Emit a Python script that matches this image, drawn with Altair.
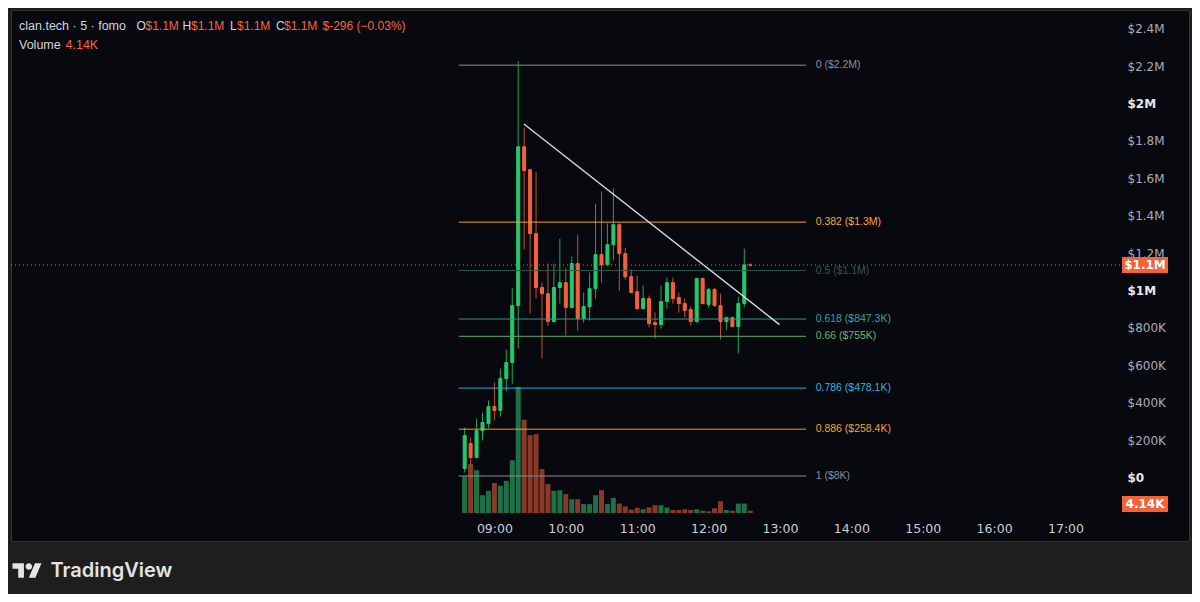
import altair as alt
import pandas as pd

# ---------------- data ----------------
times = ["08:35", "08:40", "08:45", "08:50", "08:55",
         "09:00", "09:05", "09:10", "09:15", "09:20", "09:25", "09:30", "09:35", "09:40", "09:45", "09:50", "09:55",
         "10:00", "10:05", "10:10", "10:15", "10:20", "10:25", "10:30", "10:35", "10:40", "10:45", "10:50", "10:55",
         "11:00", "11:05", "11:10", "11:15", "11:20", "11:25", "11:30", "11:35", "11:40", "11:45", "11:50", "11:55",
         "12:00", "12:05", "12:10", "12:15", "12:20", "12:25", "12:30", "12:35"]

# prices in $M
opens = [0.048, 0.182, 0.107, 0.251, 0.289, 0.379, 0.358, 0.529, 0.615, 0.919,
         1.769, 1.646, 1.304, 1.016, 0.983, 0.834, 1.016, 1.042, 0.909, 1.144,
         0.850, 0.914, 1.010, 1.192, 1.138, 1.245, 1.352, 1.197, 1.074, 0.994,
         0.903, 0.957, 0.828, 0.818, 0.941, 1.042, 0.962, 0.930, 0.898, 0.834,
         1.064, 0.925, 1.005, 0.919, 0.834, 0.855, 0.807, 0.930, 1.137]
highs = [0.267, 0.214, 0.315, 0.347, 0.412, 0.508, 0.583, 0.684, 1.015, 2.227,
         1.871, 1.650, 1.635, 1.042, 1.144, 1.144, 1.277, 1.122, 1.181, 1.299,
         0.989, 1.096, 1.464, 1.529, 1.358, 1.545, 1.360, 1.229, 1.112, 1.080,
         1.026, 0.973, 0.882, 1.026, 1.069, 1.069, 0.989, 0.957, 0.914, 1.069,
         1.069, 1.015, 1.015, 0.983, 0.860, 0.860, 0.967, 1.224, 1.146]
lows = [0.027, 0.064, 0.102, 0.198, 0.262, 0.305, 0.326, 0.460, 0.502, 0.689,
        1.219, 0.877, 0.957, 0.636, 0.812, 0.828, 0.930, 0.759, 0.903, 0.786,
        0.828, 0.839, 0.957, 1.042, 1.133, 1.160, 0.999, 1.058, 0.983, 0.898,
        0.898, 0.802, 0.743, 0.796, 0.903, 0.930, 0.882, 0.855, 0.812, 0.828,
        0.925, 0.909, 0.914, 0.738, 0.791, 0.802, 0.663, 0.909, 1.126]
closes = [0.224, 0.107, 0.251, 0.294, 0.379, 0.358, 0.529, 0.615, 0.919, 1.769,
          1.641, 1.304, 1.016, 0.983, 0.834, 1.016, 1.042, 0.909, 1.144, 0.850,
          0.914, 1.010, 1.192, 1.138, 1.245, 1.352, 1.197, 1.074, 0.989, 0.903,
          0.957, 0.823, 0.818, 0.941, 1.042, 0.957, 0.930, 0.893, 0.834, 1.064,
          0.930, 1.005, 0.919, 0.834, 0.855, 0.807, 0.930, 1.137, 1.1364]
# volume in $K
volumes = [66, 88, 77, 32, 40, 54, 49, 58, 95, 227,
           168, 140, 142, 79, 52, 40, 41, 34, 25, 25,
           16, 16, 32, 41, 16, 27, 17, 12, 6, 9.5,
           6.7, 10, 14, 14, 10, 5.4, 5.4, 6.7, 5.4, 6.7,
           4.1, 3.1, 8.5, 21, 5.4, 4.1, 17, 17, 4.14]

fib_levels = ["0", "0.382", "0.5", "0.618", "0.66", "0.786", "0.886", "1"]
fib_prices = [2.205, 1.3657, 1.1065, 0.8473, 0.755, 0.4781, 0.2584, 0.008]
fib_labels = ["0 ($2.2M)", "0.382 ($1.3M)", "0.5 ($1.1M)", "0.618 ($847.3K)",
              "0.66 ($755K)", "0.786 ($478.1K)", "0.886 ($258.4K)", "1 ($8K)"]
fib_start, fib_end, fib_text_at = "08:30", "13:22", "13:30"

trend_times = ["09:24.8", "12:59.6"]
trend_prices = [1.8904, 0.8176]

last_price = 1.1364
last_volume_label = "4.14K"

price_ticks = [0, 0.2, 0.4, 0.6, 0.8, 1.0, 1.2, 1.4, 1.6, 1.8, 2.0, 2.2, 2.4]
time_ticks = ["09:00", "10:00", "11:00", "12:00", "13:00", "14:00", "15:00", "16:00", "17:00"]

# ---------------- styles ----------------
GREEN, RED = "#26c86c", "#f5623a"
GREEN_WICK, RED_WICK = "#22a35a", "#c0502f"
VOL_G, VOL_R = "#1e7047", "#8a3927"
fib_colors = ["#8a8d96", "#f0a02e", "#2d5a4a", "#2a9a8e", "#5fae5c", "#27aed3", "#ef9a2c", "#8a8d96"]
fib_text_colors = ["#8a8d96", "#f2a637", "#37574a", "#2fa597", "#66b864", "#2cb4d8", "#f0a23a", "#8a8d96"]
GREY_TXT = "#d1d4dc"
ORANGE_TXT = "#f7653c"


def mins(s):
    h, m = s.split(":")
    return int(h) * 60 + float(m)


W, H = 1178, 531
XS = alt.Scale(domain=[137.92, 1119.58], nice=False, zero=False)
YS = alt.Scale(domain=[-0.3396, 2.5], nice=False, zero=False)
VS = alt.Scale(domain=[-50.4, 905.4], nice=False, zero=False)

time_label_expr = "(floor(datum.value/60) < 10 ? '0' : '') + floor(datum.value/60) + ':00'"
price_label_expr = ("datum.value == 0 ? '$0' : (datum.value >= 0.999 ? '$' + format(datum.value, '.2~f') + 'M' "
                    ": '$' + format(datum.value*1000, 'd') + 'K')")
BOLD_TEST = "datum.value == 0 || datum.value == 1 || datum.value == 2"

XAX = alt.Axis(values=[mins(s) for s in time_ticks], labelExpr=time_label_expr, orient="bottom", offset=-22,
               domain=False, ticks=False, grid=False, labelPadding=3, labelBaseline="top",
               labelColor="#c9ccd3", labelFontSize=12.5, labelFont="DejaVu Sans", zindex=0, title=None)
YAX = alt.Axis(values=price_ticks, labelExpr=price_label_expr, orient="right", offset=-62,
               domain=False, ticks=False, grid=False, labelPadding=0, labelAlign="left",
               labelFontSize=12, labelFont="DejaVu Sans", zindex=0, title=None,
               labelColor={"condition": {"test": BOLD_TEST, "value": "#e6e8ee"}, "value": "#a9acb5"},
               labelFontWeight={"condition": {"test": BOLD_TEST, "value": "bold"}, "value": "normal"})


def X(f):
    return alt.X(f, scale=XS, axis=XAX, title=None)


def Y(f):
    return alt.Y(f, scale=YS, axis=YAX, title=None)


df = pd.DataFrame({
    "t": [mins(s) for s in times],
    "o": opens, "h": highs, "l": lows, "c": closes, "v": volumes,
})
up = [c >= o for o, c in zip(opens, closes)]
df["body_col"] = [GREEN if u else RED for u in up]
df["wick_col"] = [GREEN_WICK if u else RED_WICK for u in up]
df["vol_col"] = [VOL_G if u else VOL_R for u in up]

# volume (own scale)
vol = alt.Chart(df).mark_bar(size=5).encode(
    x=X("t:Q"),
    y=alt.Y("v:Q", scale=VS, axis=None, stack=None),
    y2=alt.datum(0),
    color=alt.Color("vol_col:N", scale=None),
)

wicks = alt.Chart(df).mark_rule(strokeWidth=1).encode(
    x=X("t:Q"), y=Y("l:Q"), y2="h:Q", color=alt.Color("wick_col:N", scale=None))

bodies = alt.Chart(df).mark_bar(size=3, strokeWidth=1).encode(
    x=X("t:Q"), y=Y("o:Q"), y2="c:Q",
    color=alt.Color("body_col:N", scale=None), stroke=alt.Stroke("body_col:N", scale=None))

fib_df = pd.DataFrame({
    "lvl": fib_levels, "p": fib_prices, "lab": fib_labels,
    "ts": mins(fib_start), "te": mins(fib_end), "tl": mins(fib_text_at),
    "lc": fib_colors, "tc": fib_text_colors,
})
fib_rules = alt.Chart(fib_df).mark_rule(strokeWidth=1).encode(
    x=X("ts:Q"), x2="te:Q", y=Y("p:Q"), color=alt.Color("lc:N", scale=None))
fib_texts = alt.Chart(fib_df).mark_text(align="left", baseline="middle", fontSize=10.5,
                                        font="Liberation Sans").encode(
    x=X("tl:Q"), y=Y("p:Q"), text="lab:N", color=alt.Color("tc:N", scale=None))

trend_df = pd.DataFrame({"t": [mins(s) for s in trend_times], "p": trend_prices})
trend = alt.Chart(trend_df).mark_line(color="#d9d9de", strokeWidth=1.4).encode(x=X("t:Q"), y=Y("p:Q"))

last_df = pd.DataFrame({"p": [last_price]})
price_line = alt.Chart(last_df).mark_rule(color=RED, strokeWidth=1, strokeDash=[1, 3]).encode(
    x=alt.value(0), x2=alt.value(1111), y=Y("p:Q"))

BOX = "M -1 -0.35 H 1 V 0.35 H -1 Z"
price_box = alt.Chart(last_df).mark_point(shape=BOX, filled=True, size=46 * 46, color=RED,
                                          opacity=1, strokeWidth=0).encode(x=alt.value(1134), y=Y("p:Q"))
price_box_txt = alt.Chart(last_df).mark_text(text="$1.1M", color="#ffffff", fontSize=12, fontWeight="bold",
                                             font="DejaVu Sans", align="center", baseline="middle").encode(
    x=alt.value(1134), y=Y("p:Q"))

one = pd.DataFrame({"a": [0]})
vol_box = alt.Chart(one).mark_point(shape=BOX, filled=True, size=46 * 46, color=RED,
                                    opacity=1, strokeWidth=0).encode(x=alt.value(1134), y=alt.value(494))
vol_box_txt = alt.Chart(one).mark_text(text=last_volume_label, color="#ffffff", fontSize=12, fontWeight="bold",
                                       font="DejaVu Sans", align="center", baseline="middle").encode(
    x=alt.value(1134), y=alt.value(494))


def txt(s, x, y, color, size=12, weight="normal", font="Liberation Sans"):
    return alt.Chart(one).mark_text(text=s, color=color, fontSize=size, fontWeight=weight, font=font,
                                    align="left", baseline="middle").encode(x=alt.value(x), y=alt.value(y))


header = [
    txt("clan.tech · 5 · fomo", 8, 16, GREY_TXT, 12.5),
    txt("O", 125.5, 16, GREY_TXT, 12), txt("$1.1M", 134.5, 16, ORANGE_TXT, 12),
    txt("H", 171.5, 16, GREY_TXT, 12), txt("$1.1M", 180, 16, ORANGE_TXT, 12),
    txt("L", 219, 16, GREY_TXT, 12), txt("$1.1M", 226, 16, ORANGE_TXT, 12),
    txt("C", 265, 16, GREY_TXT, 12), txt("$1.1M", 273, 16, ORANGE_TXT, 12),
    txt("$-296 (−0.03%)", 311.5, 16, ORANGE_TXT, 12),
    txt("Volume", 8, 34.5, GREY_TXT, 12.5), txt("4.14K", 54.5, 34.5, ORANGE_TXT, 12.5),
]

LOGO = ("M -0.2113 0.5070 L -0.6056 0.5070 L -0.6056 -0.1127 L -1 -0.1127 L -1 -0.5070 L -0.2113 -0.5070 Z "
        "M 0.5775 0.5070 L 0.1268 0.5070 L 0.5493 -0.5070 L 1 -0.5070 Z "
        "M -0.0986 -0.2817 A 0.2254 0.2254 0 1 0 0.3522 -0.2817 A 0.2254 0.2254 0 1 0 -0.0986 -0.2817 Z")
logo = alt.Chart(one).mark_point(shape=LOGO, filled=True, size=29 * 29, color="#e4e4e4",
                                 opacity=1, strokeWidth=0).encode(x=alt.value(16), y=alt.value(560.5))
brand = txt("TradingView", 39.5, 561, "#e4e4e4", 20, 600, "Inter")

price_group = alt.layer(wicks, bodies, fib_rules, fib_texts, trend, price_line,
                        price_box, price_box_txt, vol_box, vol_box_txt, logo, brand, *header)

chart = alt.layer(vol, price_group).resolve_scale(y="independent").properties(
    width=W, height=H,
    padding={"left": 3, "top": 2, "right": 3, "bottom": 53},
    autosize=alt.AutoSizeParams(type="none"),
    background="#1e1e1e",
).configure_view(fill="#08080f", stroke="#323232", strokeWidth=1)

chart.save("out.html", embed_options={"renderer": "svg", "actions": False})
